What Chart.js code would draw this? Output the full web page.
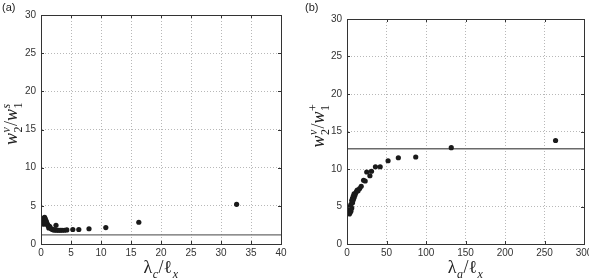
<!DOCTYPE html>
<html>
<head>
<meta charset="utf-8">
<script src="https://cdn.jsdelivr.net/npm/chart.js@4.4.0/dist/chart.umd.min.js"></script>
<style>
html,body{margin:0;padding:0;background:#fff;overflow:hidden;width:589px;height:280px;}
#wa{position:absolute;left:0;top:0;width:295px;height:280px;}
#wb{position:absolute;left:295px;top:0;width:294px;height:280px;}
</style>
</head>
<body>
<div id="wa"><canvas id="ca"></canvas></div>
<div id="wb"><canvas id="cb"></canvas></div>
<script>
// ---- data ----
const leftX = [0.3,0.4,0.5,0.6,0.7,0.8,0.5,0.4,0.9,1.0,1.1,0.7,1.2,1.4,1.5,1.3,1.7,1.9,2.1,2.3,2.5,2.6,2.9,3.2,3.5,3.9,4.3,5.3,6.3,8.0,10.8,16.3,32.6];
const leftY = [2.9,3.2,3.4,3.5,3.3,3.1,2.7,2.6,2.9,2.7,2.5,2.8,2.4,2.3,2.2,2.1,2.0,1.9,1.85,1.85,2.45,1.8,1.8,1.8,1.8,1.8,1.85,1.9,1.9,2.0,2.15,2.85,5.2];
const leftRef = 1.2;

const rightX = [3,4,3.5,5,4,6,5,7,6,8,7,9,8,10,9,11,12,13,14,16,18,21,23,25,29,31,36,42,52,65,87,132,264];
const rightY = [4.0,4.2,4.6,4.4,5.0,4.8,5.3,5.5,5.8,5.9,6.1,6.2,6.4,6.5,6.7,6.8,7.0,7.2,7.1,7.4,7.7,8.5,8.4,9.6,9.1,9.7,10.3,10.3,11.1,11.5,11.6,12.85,13.8];
const rightRef = 12.7;

const leftXTicks = [0,5,10,15,20,25,30,35,40];
const rightXTicks = [0,50,100,150,200,250,300];
const yTicks = [0,5,10,15,20,25,30];

// ---- drawing helpers ----
const SERIF = '"Liberation Serif","DejaVu Serif",serif';
function mathWidth(ctx, parts, size) {
  let w = 0;
  for (const p of parts) {
    ctx.font = (p.up ? '' : 'italic ') + size + 'px ' + SERIF;
    w += ctx.measureText(p.b).width;
    let sw = 0;
    const ss = Math.round(size * 0.68);
    if (p.sub) { ctx.font = (p.subUp ? '' : 'italic ') + ss + 'px ' + SERIF; sw = Math.max(sw, ctx.measureText(p.sub).width); }
    if (p.sup) { ctx.font = (p.supUp ? '' : 'italic ') + ss + 'px ' + SERIF; sw = Math.max(sw, ctx.measureText(p.sup).width); }
    w += sw + (sw ? 1 : 0);
  }
  return w;
}
function drawMath(ctx, parts, cx, cy, size, rotate) {
  ctx.save();
  ctx.translate(cx, cy);
  if (rotate) ctx.rotate(-Math.PI / 2);
  ctx.fillStyle = '#222';
  ctx.textBaseline = 'alphabetic';
  ctx.textAlign = 'left';
  const total = mathWidth(ctx, parts, size);
  let x = -total / 2;
  const base = size * 0.3;
  const ss = Math.round(size * 0.68);
  for (const p of parts) {
    ctx.font = (p.up ? '' : 'italic ') + size + 'px ' + SERIF;
    ctx.fillText(p.b, x, base);
    x += ctx.measureText(p.b).width;
    let sw = 0;
    if (p.sub) {
      ctx.font = (p.subUp ? '' : 'italic ') + ss + 'px ' + SERIF;
      ctx.fillText(p.sub, x + 0.5, base + size * 0.25);
      sw = Math.max(sw, ctx.measureText(p.sub).width);
    }
    if (p.sup) {
      ctx.font = (p.supUp ? '' : 'italic ') + ss + 'px ' + SERIF;
      ctx.fillText(p.sup, x + 0.5, base - size * 0.42);
      sw = Math.max(sw, ctx.measureText(p.sup).width);
    }
    x += sw + (sw ? 1 : 0);
  }
  ctx.restore();
}

function makeFramePlugin(opts) {
  return {
    id: 'frame' + opts.tag,
    afterDraw(chart) {
      const ctx = chart.ctx;
      const a = chart.chartArea;
      const xs = chart.scales.x, ys = chart.scales.y;
      ctx.save();
      ctx.strokeStyle = '#333';
      ctx.lineWidth = 1;
      // inside tick marks
      ctx.beginPath();
      for (const t of xs.ticks) {
        const px = Math.round(xs.getPixelForValue(t.value)) + 0.5;
        ctx.moveTo(px, a.bottom); ctx.lineTo(px, a.bottom - 3);
        ctx.moveTo(px, a.top); ctx.lineTo(px, a.top + 3);
      }
      for (const t of ys.ticks) {
        const py = Math.round(ys.getPixelForValue(t.value)) + 0.5;
        ctx.moveTo(a.left, py); ctx.lineTo(a.left + 3, py);
        ctx.moveTo(a.right, py); ctx.lineTo(a.right - 3, py);
      }
      ctx.stroke();
      // box
      ctx.strokeStyle = '#333';
      ctx.strokeRect(Math.round(a.left) + 0.5, Math.round(a.top) + 0.5,
                     Math.round(a.right - a.left), Math.round(a.bottom - a.top));
      ctx.restore();
      // titles
      drawMath(ctx, opts.xTitle, (a.left + a.right) / 2, 268, 18, false);
      drawMath(ctx, opts.yTitle, opts.yTitleX, (a.top + a.bottom) / 2 - 6, 18, true);
      // panel label
      ctx.save();
      ctx.fillStyle = '#222';
      ctx.font = '11px "Liberation Sans", Arial, sans-serif';
      ctx.textBaseline = 'middle';
      ctx.textAlign = 'left';
      ctx.fillText(opts.label, opts.labelX, 8);
      ctx.restore();
    }
  };
}

function buildChart(canvasId, xs, ys, ref, xMax, xStep, xTicks, geom, plugin) {
  const pts = xs.map((x, i) => ({ x: x, y: ys[i] }));
  const xMin = xTicks[0];
  const refLine = [{ x: xMin, y: ref }, { x: xMax, y: ref }];
  const tickFont = { family: '"Liberation Sans", Arial, sans-serif', size: 10 };
  return new Chart(document.getElementById(canvasId), {
    type: 'scatter',
    data: {
      datasets: [
        { data: pts, backgroundColor: '#1a1a1a', borderColor: '#1a1a1a', pointRadius: 2.6, pointBorderWidth: 0, order: 1 },
        { data: refLine, showLine: true, borderColor: '#6a6a6a', borderWidth: 1.3, pointRadius: 0, order: 2 }
      ]
    },
    options: {
      responsive: true,
      maintainAspectRatio: false,
      animation: false,
      events: [],
      layout: { padding: { left: 0, top: geom.top, right: geom.right, bottom: 0 } },
      plugins: { legend: { display: false }, tooltip: { enabled: false } },
      scales: {
        x: {
          type: 'linear', min: xMin, max: xMax,
          ticks: { stepSize: xStep, color: '#333', font: tickFont, padding: 3, maxRotation: 0, autoSkip: false },
          grid: { color: '#b8b8b8', lineWidth: 1, drawTicks: false },
          border: { display: true, color: '#333', width: 1, dash: [1, 2] },
          afterFit(s) { s.height = geom.xh; s.paddingLeft = 0; s.paddingRight = 0; }
        },
        y: {
          type: 'linear', min: yTicks[0], max: yTicks[yTicks.length - 1],
          ticks: { stepSize: 5, color: '#333', font: tickFont, padding: 5 },
          grid: { color: '#b8b8b8', lineWidth: 1, drawTicks: false },
          border: { display: true, color: '#333', width: 1, dash: [1, 2] },
          afterFit(s) { s.width = geom.yw; s.paddingTop = 0; s.paddingBottom = 0; }
        }
      }
    },
    plugins: [plugin]
  });
}

const pa = makeFramePlugin({
  tag: 'a', label: '(a)', labelX: 2, yTitleX: 12,
  xTitle: [{ b: 'λ', up: true, sub: 'c' }, { b: '/', up: true }, { b: 'ℓ', up: true, sub: 'x' }],
  yTitle: [{ b: 'w', sub: '2', subUp: true, sup: 'v' }, { b: '/', up: true }, { b: 'w', sub: '1', subUp: true, sup: 's' }]
});
const pb = makeFramePlugin({
  tag: 'b', label: '(b)', labelX: 10, yTitleX: 24,
  xTitle: [{ b: 'λ', up: true, sub: 'a' }, { b: '/', up: true }, { b: 'ℓ', up: true, sub: 'x' }],
  yTitle: [{ b: 'w', sub: '2', subUp: true, sup: 'v' }, { b: '/', up: true }, { b: 'w', sub: '1', subUp: true, sup: '+', supUp: true }]
});

buildChart('ca', leftX, leftY, leftRef, leftXTicks[leftXTicks.length - 1], 5, leftXTicks,
  { top: 15, right: 14, xh: 36, yw: 41 }, pa);
buildChart('cb', rightX, rightY, rightRef, rightXTicks[rightXTicks.length - 1], 50, rightXTicks,
  { top: 19, right: 5, xh: 36, yw: 52 }, pb);
</script>
</body>
</html>
